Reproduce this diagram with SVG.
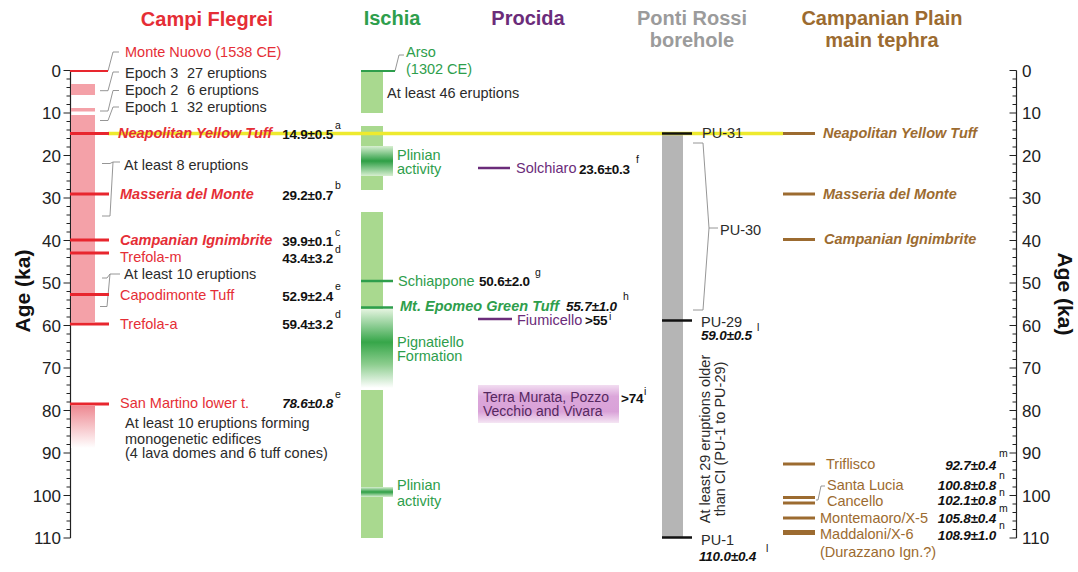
<svg xmlns="http://www.w3.org/2000/svg" width="1078" height="572" viewBox="0 0 1078 572">
<style>
text{font-family:"Liberation Sans",Arial,sans-serif;}
.h{font-size:20px;font-weight:bold;text-anchor:middle;}
.l{font-size:14.5px;}
.bi{font-weight:bold;font-style:italic;}
.v{font-size:13.5px;font-weight:bold;fill:#111;letter-spacing:-0.2px;}
.vi{font-size:13.5px;font-weight:bold;font-style:italic;fill:#111;letter-spacing:-0.2px;}
.s{font-size:10.5px;fill:#111;}
.n{fill:#2b2b2b;}
.red{fill:#e52e36;}
.grn{fill:#2e9e4c;}
.pur{fill:#6b2c7a;}
.brn{fill:#9c6b30;}
.ax{font-size:17px;fill:#222;}
.ld{fill:none;stroke:#8a8a8a;stroke-width:0.9;}
.rl{stroke:#e8262e;stroke-width:3;}
.gl{stroke:#2e9e4c;stroke-width:2.5;}
.pl{stroke:#6b2c7a;stroke-width:2.5;}
.bl{stroke:#9c6b30;stroke-width:3;}
.kl{stroke:#111;stroke-width:2.5;}
.bar{fill:#a9d98f;}
</style>
<defs>
<g id="ticks" fill="none" stroke="#222" stroke-width="1.2">
<path d="M0,70.5V538"/>
<path d="M-7,70.5H0M-7,113H0M-7,155.5H0M-7,198H0M-7,240.5H0M-7,283H0M-7,325.5H0M-7,368H0M-7,410.5H0M-7,453H0M-7,495.5H0M-7,538H0"/>
<path d="M-4,79H0M-4,87.5H0M-4,96H0M-4,104.5H0M-4,121.5H0M-4,130H0M-4,138.5H0M-4,147H0M-4,164H0M-4,172.5H0M-4,181H0M-4,189.5H0M-4,206.5H0M-4,215H0M-4,223.5H0M-4,232H0M-4,249H0M-4,257.5H0M-4,266H0M-4,274.5H0M-4,291.5H0M-4,300H0M-4,308.5H0M-4,317H0M-4,334H0M-4,342.5H0M-4,351H0M-4,359.5H0M-4,376.5H0M-4,385H0M-4,393.5H0M-4,402H0M-4,419H0M-4,427.5H0M-4,436H0M-4,444.5H0M-4,461.5H0M-4,470H0M-4,478.5H0M-4,487H0M-4,504H0M-4,512.5H0M-4,521H0M-4,529.5H0"/>
</g>
<linearGradient id="gsm" x1="0" y1="0" x2="0" y2="1"><stop offset="0" stop-color="#ee8a93"/><stop offset="1" stop-color="#ffffff"/></linearGradient>
<linearGradient id="gpl" x1="0" y1="0" x2="0" y2="1"><stop offset="0" stop-color="#d8efd1"/><stop offset="0.5" stop-color="#2e9f45"/><stop offset="1" stop-color="#d8efd1"/></linearGradient>
<linearGradient id="gpi" x1="0" y1="0" x2="0" y2="1"><stop offset="0" stop-color="#e4f4df"/><stop offset="0.42" stop-color="#36a649"/><stop offset="0.7" stop-color="#8ccd8e"/><stop offset="1" stop-color="#ffffff"/></linearGradient>
<linearGradient id="gtm" x1="0" y1="0" x2="0" y2="1"><stop offset="0" stop-color="#f2ddf1"/><stop offset="0.3" stop-color="#dba6da"/><stop offset="0.7" stop-color="#d9a2d8"/><stop offset="1" stop-color="#f5e6f4"/></linearGradient>
</defs>

<g id="headings">
<text class="h red" x="207" y="26">Campi Flegrei</text>
<text class="h grn" x="392" y="25">Ischia</text>
<text class="h pur" x="528" y="25">Procida</text>
<text class="h" fill="#9b9b9b" x="692" y="25">Ponti Rossi</text>
<text class="h" fill="#9b9b9b" x="692" y="47">borehole</text>
<text class="h brn" x="882" y="25">Campanian Plain</text>
<text class="h brn" x="882" y="47">main tephra</text>
</g>

<g id="left-axis">
<use href="#ticks" x="70.5"/>
<g class="ax" text-anchor="end">
<text x="61" y="76.5">0</text><text x="61" y="119">10</text><text x="61" y="161.5">20</text><text x="61" y="204">30</text><text x="61" y="246.5">40</text><text x="61" y="289">50</text><text x="61" y="331.5">60</text><text x="61" y="374">70</text><text x="61" y="416.5">80</text><text x="61" y="459">90</text><text x="61" y="501.5">100</text><text x="61" y="544">110</text>
</g>
<text transform="translate(30,291) rotate(-90)" text-anchor="middle" font-size="21" font-weight="bold" fill="#111">Age (ka)</text>
</g>

<g id="right-axis">
<use href="#ticks" x="1016.5"/>
<g class="ax">
<text x="1022" y="76.5">0</text><text x="1022" y="119">10</text><text x="1022" y="161.5">20</text><text x="1022" y="204">30</text><text x="1022" y="246.5">40</text><text x="1022" y="289">50</text><text x="1022" y="331.5">60</text><text x="1022" y="374">70</text><text x="1022" y="416.5">80</text><text x="1022" y="459">90</text><text x="1022" y="501.5">100</text><text x="1022" y="544">110</text>
</g>
<text transform="translate(1058,294) rotate(90)" text-anchor="middle" font-size="21" font-weight="bold" fill="#111">Age (ka)</text>
</g>

<g id="campi-flegrei-bars">
<rect x="71" y="84" width="24" height="11" fill="#f4a1a8"/>
<rect x="71" y="108" width="24" height="3.5" fill="#f4a1a8"/>
<rect x="71" y="115" width="24" height="207" fill="#f4a1a8"/>
<rect x="71" y="406" width="24" height="42" fill="url(#gsm)"/>
</g>

<g id="ischia-bars">
<rect class="bar" x="361" y="72" width="22" height="41"/>
<rect class="bar" x="361" y="126" width="22" height="20"/>
<rect x="361" y="146" width="32" height="30" fill="url(#gpl)"/>
<rect class="bar" x="361" y="176" width="22" height="14"/>
<rect class="bar" x="361" y="212" width="22" height="97"/>
<rect x="361" y="309" width="32" height="79" fill="url(#gpi)"/>
<rect class="bar" x="361" y="390" width="22" height="148"/>
<rect x="361" y="487" width="32" height="10" fill="url(#gpl)"/>
</g>

<g id="ponti-rossi-bar">
<rect x="662" y="133.5" width="21" height="404" fill="#b5b5b5"/>
</g>

<g id="nyt-correlation">
<line x1="108" y1="133.5" x2="783" y2="133.5" stroke="#eeea2e" stroke-width="3.5"/>
</g>

<g id="connectors" class="ld">
<path d="M108,71 L113,52 H119"/>
<path d="M100,90.7 H108 L113,72 H119"/>
<path d="M100,111 H108 L113,90.5 H119"/>
<path d="M100,120.5 H108 L113,107 H119"/>
<path d="M102,163.5 H110 L113,162 H120 M113,162 L110,216 H102"/>
<path d="M102,278 H107 L110,274 H120 M110,274 L107,306.5 H100"/>
<path d="M395,71 L399,55 H404"/>
<path d="M693,143 H703 L709,228 H718 M709,228 L703,310 H693"/>
<path d="M816,500 H818 L821,486 H825"/>
</g>

<g id="cf-monte-nuovo"><line x1="70" y1="71" x2="108" y2="71" stroke="#e8262e" stroke-width="2"/><text class="l red" x="125" y="57">Monte Nuovo (1538 CE)</text></g>
<g id="cf-epoch3"><text class="l n" x="125" y="78">Epoch 3<tspan x="187">27 eruptions</tspan></text></g>
<g id="cf-epoch2"><text class="l n" x="125" y="95">Epoch 2<tspan x="187">6 eruptions</tspan></text></g>
<g id="cf-epoch1"><text class="l n" x="125" y="112">Epoch 1<tspan x="187">32 eruptions</tspan></text></g>
<g id="cf-nyt"><line class="rl" x1="70" y1="133.5" x2="109" y2="133.5"/><text class="l bi red" x="118" y="138">Neapolitan Yellow Tuff</text><text class="v" x="333" y="139" text-anchor="end">14.9±0.5</text><text class="s" x="335" y="129">a</text></g>
<g id="cf-8"><text class="l n" x="124" y="170">At least 8 eruptions</text></g>
<g id="cf-masseria"><line class="rl" x1="70" y1="194" x2="109" y2="194"/><text class="l bi red" x="120" y="199">Masseria del Monte</text><text class="v" x="333" y="200" text-anchor="end">29.2±0.7</text><text class="s" x="335" y="189">b</text></g>
<g id="cf-ci"><line class="rl" x1="70" y1="240" x2="109" y2="240"/><text class="l bi red" x="120" y="245">Campanian Ignimbrite</text><text class="v" x="333" y="246" text-anchor="end">39.9±0.1</text><text class="s" x="335" y="236">c</text></g>
<g id="cf-trefola-m"><line class="rl" x1="70" y1="253" x2="109" y2="253"/><text class="l red" x="120" y="262">Trefola-m</text><text class="v" x="333" y="263" text-anchor="end">43.4±3.2</text><text class="s" x="335" y="253">d</text></g>
<g id="cf-10"><text class="l n" x="124" y="279">At least 10 eruptions</text></g>
<g id="cf-capodimonte"><line class="rl" x1="70" y1="294.5" x2="109" y2="294.5"/><text class="l red" x="120" y="300">Capodimonte Tuff</text><text class="v" x="333" y="301" text-anchor="end">52.9±2.4</text><text class="s" x="335" y="290">e</text></g>
<g id="cf-trefola-a"><line class="rl" x1="70" y1="324" x2="109" y2="324"/><text class="l red" x="120" y="329">Trefola-a</text><text class="v" x="333" y="329" text-anchor="end">59.4±3.2</text><text class="s" x="335" y="318">d</text></g>
<g id="cf-san-martino"><line class="rl" x1="70" y1="404" x2="109" y2="404"/><text class="l red" x="120" y="408">San Martino lower t.</text><text class="vi" x="333" y="408" text-anchor="end">78.6±0.8</text><text class="s" x="335" y="398">e</text></g>
<g id="cf-monogenetic"><text class="l n" x="125" y="428">At least 10 eruptions forming</text><text class="l n" x="125" y="444">monogenetic edifices</text><text class="l n" x="125" y="458">(4 lava domes and 6 tuff cones)</text></g>

<g id="is-arso"><line x1="361" y1="71" x2="395" y2="71" stroke="#2e9e4c" stroke-width="2"/><text class="l grn" x="406" y="57">Arso</text><text class="l grn" x="406" y="74">(1302 CE)</text></g>
<g id="is-46"><text class="l n" x="387" y="98">At least 46 eruptions</text></g>
<g id="is-plinian1"><text class="l grn" x="397" y="160">Plinian</text><text class="l grn" x="397" y="174">activity</text></g>
<g id="is-schiappone"><line class="gl" x1="361" y1="281" x2="393" y2="281"/><text class="l grn" x="398" y="286">Schiappone</text><text class="v" x="479" y="286">50.6±2.0</text><text class="s" x="535" y="276">g</text></g>
<g id="is-megt"><line class="gl" x1="361" y1="307.5" x2="393" y2="307.5"/><text class="l bi grn" x="400" y="311">Mt. Epomeo Green Tuff</text><text class="vi" x="566" y="311">55.7±1.0</text><text class="s" x="623" y="300">h</text></g>
<g id="is-pignatiello"><text class="l grn" x="397" y="347">Pignatiello</text><text class="l grn" x="397" y="361">Formation</text></g>
<g id="is-plinian2"><text class="l grn" x="397" y="490">Plinian</text><text class="l grn" x="397" y="506">activity</text></g>

<g id="pr-solchiaro"><line class="pl" x1="478" y1="168" x2="510" y2="168"/><text class="l pur" x="516" y="173">Solchiaro</text><text class="v" x="579" y="174">23.6±0.3</text><text class="s" x="636" y="163">f</text></g>
<g id="pr-fiumicello"><line class="pl" x1="478" y1="319" x2="512" y2="319"/><text class="l pur" x="517" y="325">Fiumicello</text><text class="v" x="585" y="325">&gt;55</text><text class="s" x="609" y="320">i</text></g>
<g id="pr-terra-murata"><rect x="478" y="385" width="141" height="38" fill="url(#gtm)"/><text fill="#55285f" font-size="14px" x="483" y="402">Terra Murata, Pozzo</text><text fill="#55285f" font-size="14px" x="483" y="416">Vecchio and Vivara</text><text class="v" x="621" y="403">&gt;74</text><text class="s" x="644" y="395">i</text></g>

<g id="ps-pu31"><line class="kl" x1="662" y1="133.5" x2="692" y2="133.5"/><text class="l n" x="702" y="138">PU-31</text></g>
<g id="ps-pu30"><text class="l n" x="720" y="235">PU-30</text></g>
<g id="ps-pu29"><line class="kl" x1="662" y1="320.5" x2="692" y2="320.5"/><text class="l n" x="701" y="327">PU-29</text><text class="vi" x="701" y="340">59.0±0.5</text><text class="s" x="757" y="331">l</text></g>
<g id="ps-pu1"><line class="kl" x1="662" y1="537.5" x2="692" y2="537.5"/><text class="l n" x="701" y="545">PU-1</text><text class="vi" x="699" y="561">110.0±0.4</text><text class="s" x="766" y="552">l</text></g>
<g id="ps-note"><text class="l n" text-anchor="middle" transform="translate(710,439) rotate(-90)">At least 29 eruptions older</text><text class="l n" text-anchor="middle" transform="translate(725,439) rotate(-90)">than CI (PU-1 to PU-29)</text></g>

<g id="cp-nyt"><line class="bl" x1="783" y1="133.5" x2="815" y2="133.5"/><text class="l bi brn" x="823" y="138">Neapolitan Yellow Tuff</text></g>
<g id="cp-masseria"><line class="bl" x1="783" y1="194" x2="815" y2="194"/><text class="l bi brn" x="823" y="199">Masseria del Monte</text></g>
<g id="cp-ci"><line class="bl" x1="783" y1="239.5" x2="815" y2="239.5"/><text class="l bi brn" x="824" y="244">Campanian Ignimbrite</text></g>
<g id="cp-triflisco"><line class="bl" x1="783" y1="464" x2="815" y2="464"/><text class="l brn" x="826" y="469">Triflisco</text><text class="vi" x="996" y="470" text-anchor="end">92.7±0.4</text><text class="s" x="999" y="457">m</text></g>
<g id="cp-santa-lucia"><line class="bl" x1="783" y1="497.5" x2="815" y2="497.5"/><text class="l brn" x="827" y="490">Santa Lucia</text><text class="vi" x="996" y="490" text-anchor="end">100.8±0.8</text><text class="s" x="999" y="479">n</text></g>
<g id="cp-cancello"><line class="bl" x1="783" y1="503" x2="815" y2="503"/><text class="l brn" x="827" y="506">Cancello</text><text class="vi" x="996" y="505" text-anchor="end">102.1±0.8</text><text class="s" x="999" y="496">n</text></g>
<g id="cp-montemaoro"><line class="bl" x1="783" y1="518" x2="815" y2="518"/><text class="l brn" x="820" y="523">Montemaoro/X-5</text><text class="vi" x="996" y="523" text-anchor="end">105.8±0.4</text><text class="s" x="999" y="512">m</text></g>
<g id="cp-maddaloni"><line x1="783" y1="532.5" x2="815" y2="532.5" stroke="#9c6b30" stroke-width="5"/><text class="l brn" x="820" y="539">Maddaloni/X-6</text><text class="l brn" x="820" y="557">(Durazzano Ign.?)</text><text class="vi" x="996" y="540" text-anchor="end">108.9±1.0</text><text class="s" x="999" y="529">n</text></g>
</svg>
